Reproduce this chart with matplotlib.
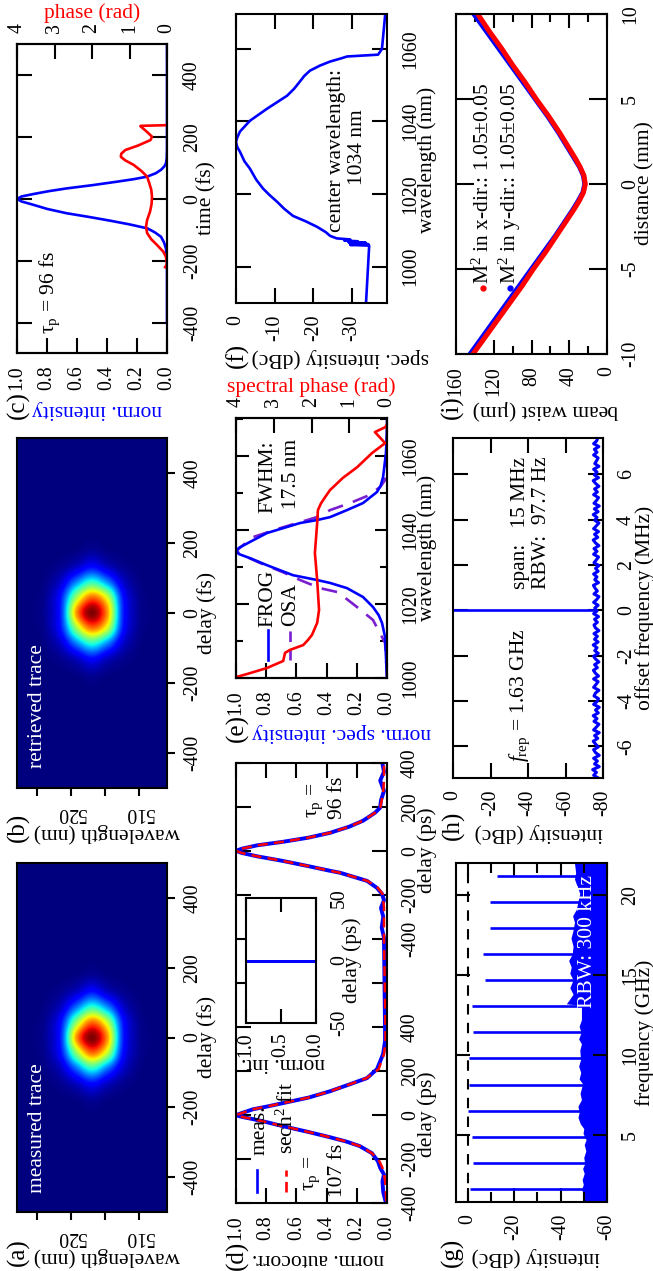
import numpy as np
import matplotlib
matplotlib.use("Agg")
import matplotlib.pyplot as plt

plt.rcParams['font.family'] = ['Liberation Serif', 'DejaVu Serif']
plt.rcParams['mathtext.fontset'] = 'custom'
plt.rcParams['mathtext.rm'] = 'Liberation Serif'
plt.rcParams['mathtext.it'] = 'Liberation Serif:italic'
plt.rcParams['mathtext.bf'] = 'Liberation Serif:bold'
plt.rcParams['axes.unicode_minus'] = False
plt.rcParams['axes.linewidth'] = 1.5

# (a) (b) FROG traces, rows = delay, columns = wavelength
frog_wl = [525.8, 523.6, 521.4, 519.2, 517.0, 514.8, 512.6, 510.3, 508.1]
frog_delay = [-214, -171, -129, -86, -43, 0, 43, 86, 129, 171, 214]
frog_a = [
    [0, 0, 0, 0, .003, 0, 0, 0, 0],
    [0, 0, .002, .01, .03, .01, .002, 0, 0],
    [0, .003, .02, .07, .14, .07, .02, .003, 0],
    [0, .012, .07, .25, .42, .26, .08, .012, 0],
    [.002, .025, .15, .54, .80, .60, .15, .025, .002],
    [.003, .03, .18, .76, 1.0, .76, .18, .028, .003],
    [.002, .025, .15, .54, .80, .60, .16, .025, .002],
    [0, .012, .07, .25, .42, .28, .08, .012, 0],
    [0, .003, .02, .07, .15, .07, .02, .003, 0],
    [0, 0, .002, .01, .03, .01, .002, 0, 0],
    [0, 0, 0, 0, .003, 0, 0, 0, 0],
]
frog_b = [
    [0, 0, 0, 0, .003, 0, 0, 0, 0],
    [0, 0, .002, .01, .03, .01, .002, 0, 0],
    [0, .003, .02, .07, .14, .07, .02, .003, 0],
    [0, .012, .08, .27, .42, .28, .08, .012, 0],
    [.002, .025, .16, .56, .80, .62, .16, .025, .002],
    [.003, .03, .18, .76, 1.0, .76, .18, .028, .003],
    [.002, .025, .16, .56, .80, .62, .16, .025, .002],
    [0, .012, .08, .27, .42, .28, .08, .012, 0],
    [0, .003, .02, .07, .14, .07, .02, .003, 0],
    [0, 0, .002, .01, .03, .01, .002, 0, 0],
    [0, 0, 0, 0, .003, 0, 0, 0, 0],
]

# (c) pulse
c_time = [-400, -200, -160, -140, -122, -108, -95, -82, -70, -58, -46, -32, -19, -8, 0, 8, 16, 25, 34, 45, 56, 64, 72,
          83, 94, 105, 115, 130, 160, 500]
c_int = [0, 0, .007, .02, .04, .08, .13, .25, .38, .52, .67, .8, .89, .97, 1, .97, .89, .79, .67, .49, .33, .22, .133,
         .075, .04, .018, .007, .002, 0, 0]
c_ph_time = [-220, -210, -186, -170, -148, -130, -110, -90, -68, -40, -15, 8, 30, 50, 72, 90, 110, 125, 136, 146, 158,
             172, 190, 201, 215, 235, 236, 238]
c_phase = [.05, 0, .03, .1, .27, .42, .53, .56, .53, .45, .41, .4, .42, .47, .53, .68, .89, 1.12, 1.23, 1.22, 1.11,
           .78, .44, .40, .52, .71, .7, .03]

# (d) autocorrelation, two traces on one broken axis
d_break = 1204
d_delay1 = [-392, -350, -301, -270, -240, -210, -173, -141, -120, -100, -75, -50, -33, -18, -8, 0, 10, 27, 40, 55, 80,
            109, 141, 169, 210, 278, 337, 396]
d_meas1 = [.01, .025, .03, .02, .045, .06, .10, .18, .27, .38, .53, .69, .79, .887, .96, 1, .96, .887, .79, .689, .52,
           .377, .245, .132, .066, .026, .013, .013]
d_fit1 = [.005, .008, .012, .02, .03, .05, .10, .18, .27, .38, .53, .69, .79, .887, .96, 1, .96, .887, .79, .689, .52,
          .377, .245, .135, .055, .02, .01, .01]
d_delay2 = [-396, -350, -300, -260, -225, -196, -169, -137, -100, -91, -70, -46, -25, -10, 0, 10, 25, 41, 60, 82,
            110, 137, 173, 196, 230, 273, 320, 360, 396]
d_meas2 = [.02, .035, .025, .04, .02, .033, .066, .132, .31, .377, .52, .69, .86, .96, 1, .96, .86, .69, .52, .377,
           .25, .159, .08, .046, .04, .02, .045, .02, .03]
d_fit2 = [.02, .02, .02, .02, .025, .03, .06, .13, .31, .377, .52, .69, .86, .96, 1, .96, .86, .69, .52, .377,
          .25, .159, .08, .045, .035, .025, .02, .02, .02]
inset_delay = [-50, 0, 0, 0, 50]
inset_int = [0, 0, 1, 0, 0]

# (e) spectrum
e_wl = [1000, 1011.1, 1014.9, 1017, 1019.2, 1021.9, 1024.3, 1025.7, 1026.5, 1027.8, 1030.5, 1032.4, 1033.5, 1034.3, 1035.2,
        1036.8, 1039.2, 1041.9, 1042.7, 1043.5, 1045.4, 1047.3, 1050.3, 1052, 1054.3, 1060.8, 1067, 1070]
e_frog = [0, .013, .033, .055, .093, .159, .265, .377, .464, .623, .795, .907, .98, 1.0, .98,
          .907, .795, .576, .464, .377, .265, .159, .066, .042, .026, .007, 0, 0]
e_osa_wl = [1000.3, 1009.5, 1015.7, 1019.2, 1023.2, 1024.3, 1026.5, 1028.6, 1031.1, 1033.2, 1034.3, 1035.7,
            1038.1, 1040.5, 1043.5, 1045.4, 1047.3, 1049.2, 1051.6, 1053.5, 1060, 1070]
e_osa = [0, .013, .093, .199, .325, .444, .576, .689, .841, .954, 1, .96,
         .887, .709, .464, .377, .245, .132, .046, .013, 0, 0]
e_ph_wl = [1000.3, 1001.1, 1002.7, 1004.6, 1006.8, 1007.6, 1008.9, 1010.2, 1011.6, 1014.9, 1018.4, 1026.5, 1033.8,
           1041.9, 1045.4, 1047.2, 1048.9, 1050.8, 1054.1, 1057, 1060.8, 1063.5, 1066.5, 1067.8, 1068.5]
e_phase = [3.98, 3.7, 3.18, 2.75, 2.7, 2.57, 2.22, 2.1, 1.99, 1.85, 1.8, 1.85, 1.91,
           1.85, 1.83, 1.75, 1.64, 1.51, 1.17, .79, .40, .05, .32, .05, 0]

# (f) log spectrum
f_wl = [990.4, 1005.8, 1006, 1006.2, 1006.4, 1006.6, 1006.8, 1007, 1007.2, 1007.5, 1007.8, 1008.5, 1009.5, 1011, 1012.5,
        1014, 1016, 1017.9, 1019.7, 1021.5, 1024, 1027, 1029, 1031.7, 1033, 1034.4, 1035.5,
        1037.2, 1040.2, 1043.5, 1047.1, 1049, 1051, 1052.5, 1054, 1055.4, 1056.5, 1057.3, 1057.9, 1058.4, 1060, 1069.1]
f_db = [-33.6, -34.4, -29.5, -34.2, -29.4, -33.5, -29, -31.5, -28, -29.5, -26, -24.3, -23.2, -20.9, -18,
        -14.7, -12.4, -10.6, -8.7, -7, -5.2, -3.6, -2.2, -1, -.3, 0, -.3,
        -1, -3.6, -8, -13.2, -15, -16.5, -17.6, -19.1, -21.7, -24.3, -26.9, -28.7, -36.7, -37.7, -38.5]

# (g) wide RF spectrum
g_comb = [1.63, 3.26, 4.89, 6.52, 8.15, 9.78, 11.41, 13.04, 14.67, 16.3, 17.93, 19.56, 21.19]
g_top = [-1.2, -2.2, -1.7, -.3, -.4, -.6, -2.3, -1.7, -7.4, -6.7, -9.6, -9.6, -12.5]
g_floor_f = [.8, 1.1, 1.3, 1.6, 1.9, 2.2, 2.6, 2.9, 3.2, 3.6, 4.0, 4.4, 4.7, 5.1, 5.4, 5.7, 6.1, 6.4, 6.8, 7.2, 7.6,
             8.2, 8.5, 8.9, 9.3, 9.7, 10.3, 10.7, 11.0, 11.4, 11.8, 12.2, 12.7, 13.1, 13.2, 13.5, 13.8, 14.2, 14.7,
             15.1, 15.5, 15.9, 16.3, 16.8, 17.3, 17.8, 18.3, 18.7, 19.1, 19.6, 20.1, 20.6, 21, 21.4, 22]
g_floor_db = [-50.4, -49.5, -50, -49, -49.8, -49.3, -50.2, -49.5, -50.4, -50, -50.9, -50.2, -51, -49.7, -50, -48.5,
              -47.5, -48, -47.5, -49, -48.4, -49.5, -48, -48.7, -47.8, -48.6, -48.3, -49, -47.8, -48.8, -48, -49, -49,
              -49, -42.5, -44, -45.4, -44, -45.4, -44, -44.6, -43.5, -45, -45.4, -44.5, -45.4, -46, -45.2, -46.8,
              -47.5, -48.3, -47, -46, -46.5, -46]

# (h) narrow RF spectrum
h_freq = [-7.4, -7.28, -7.15, -7.03, -6.9, -6.78, -6.65, -6.53, -6.4, -6.28, -6.15, -6.03, -5.9, -5.78, -5.65, -5.53,
          -5.4, -5.28, -5.15, -5.03, -4.9, -4.78, -4.65, -4.53, -4.4, -4.28, -4.15, -4.03, -3.9, -3.78, -3.65, -3.53,
          -3.4, -3.28, -3.15, -3.03, -2.9, -2.78, -2.65, -2.53, -2.4, -2.28, -2.15, -2.03, -1.9, -1.78, -1.65, -1.53,
          -1.4, -1.28, -1.15, -1.03, -.9, -.78, -.65, -.53, -.4, -.28, -.15, -.03, .1, .22, .35, .47, .6, .72, .85,
          .97, 1.1, 1.22, 1.35, 1.47, 1.6, 1.72, 1.85, 1.97, 2.1, 2.22, 2.35, 2.47, 2.6, 2.72, 2.85, 2.97, 3.1, 3.22,
          3.35, 3.47, 3.6, 3.72, 3.85, 3.97, 4.1, 4.22, 4.35, 4.47, 4.6, 4.72, 4.85, 4.97, 5.1, 5.22, 5.35, 5.47, 5.6,
          5.72, 5.85, 5.97, 6.1, 6.22, 6.35, 6.47, 6.6, 6.72, 6.85, 6.97, 7.1, 7.22, 7.35, 7.47, 7.6]
h_noise = [-77.5, -75, -76.5, -74.5, -78, -75.5, -77, -75, -78, -76, -75, -77.5, -76, -74.8, -77.2, -75.5,
           -78, -75, -76.5, -77.8, -75.2, -76.8, -74.8, -77.5, -76, -78, -75, -76.8, -77.6, -75.2, -76, -77.8,
           -75, -76.2, -77.4, -75, -77.6, -76, -74.9, -77, -75.5, -77.8, -76, -75, -77.5, -75.6, -76.8, -74.8,
           -77.4, -75.5, -77, -75.2, -77.8, -76, -75.2, -77, -75.5, -77.6, -75, -76.8, -75.6, -77.4, -75, -76.6, -77.8,
           -75.2, -77, -75.8, -74.9, -77.6, -75.6, -76.8, -75, -77.4, -76, -77.8, -75.2, -76.4, -77.6, -75, -76.8,
           -75.2, -77.8, -76, -74.8, -77.2, -75.5, -77.6, -75, -76.4, -77.8, -75.6, -76.8, -74.8, -77.4, -75.4, -78,
           -75.2, -76.6, -77.6, -75, -77, -75.5, -77.8, -76, -74.8, -77.6, -75.4, -76.8, -75, -77.8, -75.6, -76.6,
           -77.4, -75, -76.8, -75.4, -77.8, -75, -76.6, -77.2]
h_peak_f = [0, 0]
h_peak_db = [-76, 0]

# (i) beam caustic
i_dist = [-10, -9, -8, -7, -6, -5, -4, -3, -2, -1.5, -1, -.5, 0, .5, 1, 1.5, 2, 3, 4, 5, 6, 7, 8, 9, 10]
i_x = [142, 129, 116, 103, 90, 78, 65, 53, 41, 35, 29.5, 25, 23, 24.5, 28.5, 33.5, 39, 50, 62, 75, 87, 100, 112, 125, 137]
i_y = [145, 132, 119, 106, 93, 80, 67, 54, 42, 36, 30.5, 25.5, 23.5, 25, 29, 34.5, 40, 51, 63, 76, 89, 102, 115, 128, 141]

W, H = 653, 1271
BLUE = '#0000ff'
RED = '#ff0000'
PURPLE = '#7a1fd0'
TS = 14.3
AS = 15.5
LS = 18

fig = plt.figure(figsize=(W / 100, H / 100), dpi=100)


def panel(x0, y0, x1, y1):
    return fig.add_axes([x0 / W, 1 - y1 / H, (x1 - x0) / W, (y1 - y0) / H])


def txt(x, y, s, rot=90, color='k', size=AS):
    fig.text(x / W, 1 - y / H, s, rotation=rot, color=color, fontsize=size, ha='center', va='center')


def style(ax, xt, xl, yt, yl, xlen=10.5, ylen=10.5, pad_x=8.6, pad_y=10):
    # image x = plotted value, image y = the original abscissa
    ax.set_xticks(xt, xl)
    ax.set_yticks(yt, yl)
    ax.tick_params(axis='x', direction='in', length=xlen, width=1.5, top=True, pad=pad_x, labelrotation=90, labelsize=TS)
    ax.tick_params(axis='y', direction='in', length=ylen, width=1.5, left=True, right=True, labelleft=False,
                   labelright=True, pad=pad_y, labelrotation=90, labelsize=TS)
    for t in ax.get_yticklabels():
        t.set_va('center')


def frog(ax, data):
    ax.set_facecolor('#00007f')
    dw = frog_wl[0] - frog_wl[1]
    dd = frog_delay[1] - frog_delay[0]
    ax.imshow(data, cmap='jet', vmin=0, vmax=1, aspect='auto', origin='lower', interpolation='catrom',
              extent=(frog_wl[0] + dw / 2, frog_wl[-1] - dw / 2, frog_delay[0] - dd / 2, frog_delay[-1] + dd / 2))
    ax.set_xlim(528, 505.9)
    ax.set_ylim(-500, 500)
    ax.set_xticks([525, 520, 515, 510], ['', '520', '', '510'])
    ax.set_yticks([-400, -200, 0, 200, 400], ['-400', '-200', '0', '200', '400'])
    ax.tick_params(axis='x', direction='out', length=6, width=1.5, pad=5, labelrotation=180, labelsize=TS)
    ax.tick_params(axis='y', direction='out', length=6, width=1.5, left=False, right=True, labelleft=False,
                   labelright=True, pad=5.8, labelrotation=90, labelsize=TS)
    for t in ax.get_yticklabels():
        t.set_va('center')


# (a)
ax_a = panel(17, 863, 167, 1212)
frog(ax_a, frog_a)
txt(38, 1128, 'measured trace', color='white')
txt(207, 1037, 'delay (fs)')
txt(107, 1257, 'wavelength (nm)', rot=180)
txt(18, 1252, '(a)', size=LS)

# (b)
ax_b = panel(17, 438, 167, 788)
frog(ax_b, frog_b)
txt(38, 706, 'retrieved trace', color='white')
txt(207, 613, 'delay (fs)')
txt(107, 833, 'wavelength (nm)', rot=180)
txt(18, 827, '(b)', size=LS)

# (c)
ax_c = panel(17, 44, 167, 353)
ax_c.plot(c_int, c_time, color=BLUE, lw=1.9)
ax_c.set_xlim(1, 0)
ax_c.set_ylim(-497, 500)
style(ax_c, [0, .2, .4, .6, .8, 1], ['0.0', '0.2', '0.4', '0.6', '0.8', '1.0'],
      [-400, -200, 0, 200, 400], ['-400', '-200', '0', '200', '400'], pad_y=11.5)
ax_c.tick_params(axis='x', top=False)
ax_c2 = ax_c.twiny()
ax_c2.plot(c_phase, c_ph_time, color=RED, lw=1.9)
ax_c2.set_xlim(4, 0)
ax_c2.set_xticks([0, 1, 2, 3, 4], ['0', '1', '2', '3', '4'])
ax_c2.tick_params(axis='x', direction='in', length=10.5, width=1.5, pad=8, labelrotation=90, labelsize=TS)
txt(92, 13, 'phase (rad)', rot=0, color=RED)
txt(207, 198, 'time (fs)')
txt(97, 410, 'norm. intensity', rot=180, color=BLUE)
txt(18, 405, '(c)', size=LS)
txt(50, 292, r'$\mathrm{\tau}_{\mathrm{p}}$ = 96 fs')

# (d)
ax_d = panel(236, 763, 387, 1203)
d_pos = [v for v in d_delay1] + [v + d_break for v in d_delay2]
ax_d.plot(d_meas1 + d_meas2, d_pos, color=BLUE, lw=2.8)
ax_d.plot(d_fit1 + d_fit2, d_pos, color=RED, lw=1.8, ls=(0, (4, 2.5)))
ax_d.set_xlim(1, 0)
ax_d.set_ylim(-400, 1604)
style(ax_d, [0, .2, .4, .6, .8, 1], ['0.0', '0.2', '0.4', '0.6', '0.8', '1.0'],
      [-400, -200, 0, 200, 400, 600, 804, 1004, 1204, 1404, 1604],
      ['-400', '-200', '0', '200', '400', '', '-400', '-200', '0', '200', '400'])
txt(260, 1130, 'meas.')
txt(287, 1118, r'sech$^2$ fit')
ax_d.plot([.14, .14], [.025, .075], color=BLUE, lw=1.9, transform=ax_d.transAxes)
ax_d.plot([.33, .33], [.025, .075], color=RED, lw=1.9, ls=(0, (4, 2)), transform=ax_d.transAxes)
txt(312, 1173, r'$\mathrm{\tau}_{\mathrm{p}}$ =')
txt(338, 1170, '107 fs')
txt(315, 800, r'$\mathrm{\tau}_{\mathrm{p}}$ =')
txt(338, 798, '96 fs')
txt(427, 1114, 'delay (ps)')
txt(427, 850, 'delay (ps)')
txt(318, 1258, 'norm. autocorr.', rot=180)
txt(237, 1255, '(d)', size=LS)

ax_in = panel(246, 898, 316, 1023)
ax_in.plot(inset_int, inset_delay, color=BLUE, lw=1.9)
ax_in.set_xlim(1, 0)
ax_in.set_ylim(-50, 50)
style(ax_in, [0, .5, 1], ['0.0', '0.5', '1.0'], [-50, 0, 50], ['-50', '0', '50'], pad_x=7, pad_y=10)
ax_in.tick_params(axis='x', length=10)
ax_in.tick_params(axis='y', length=0)
txt(352, 960, 'delay (ps)')
txt(283, 1063, 'norm. int.', rot=180)

# (e)
ax_e = panel(236, 418, 387, 678)
ax_e.plot(e_osa, e_osa_wl, color=PURPLE, lw=1.9, ls=(0, (6, 4)))
ax_e.plot(e_frog, e_wl, color=BLUE, lw=1.9)
ax_e.set_xlim(1, 0)
ax_e.set_ylim(1000, 1070.3)
style(ax_e, [0, .2, .4, .6, .8, 1], ['0.0', '0.2', '0.4', '0.6', '0.8', '1.0'],
      [1000, 1020, 1040, 1060], ['1000', '1020', '1040', '1060'], ylen=6)
ax_e.set_yticks([1010, 1030, 1050, 1070], minor=True)
ax_e.tick_params(axis='y', which='minor', direction='in', length=5, width=1.5, left=True, right=True)
ax_e.tick_params(axis='y', which='major', length=9)
ax_e.tick_params(axis='x', top=False)
ax_e2 = ax_e.twiny()
ax_e2.plot(e_phase, e_ph_wl, color=RED, lw=1.9)
ax_e2.set_xlim(4, 0)
ax_e2.set_xticks([0, 1, 2, 3, 4], ['0', '1', '2', '3', '4'])
ax_e2.tick_params(axis='x', direction='in', length=10.5, width=1.5, pad=8, labelrotation=90, labelsize=TS)
txt(311, 387, 'spectral phase (rad)', rot=0, color=RED)
txt(427, 548, 'wavelength (nm)')
txt(341, 733, 'norm. spec. intensity', rot=180, color=BLUE)
txt(237, 728, '(e)', size=LS)
txt(268, 598, 'FROG')
txt(291, 605, 'OSA')
ax_e.plot([.21, .21], [.07, .185], color=BLUE, lw=1.9, transform=ax_e.transAxes)
ax_e.plot([.36, .36], [.07, .185], color=PURPLE, lw=1.9, ls=(0, (4, 3)), transform=ax_e.transAxes)
txt(268, 477, 'FWHM:')
txt(292, 474, '17.5 nm')

# (f)
ax_f = panel(236, 14, 387, 303)
ax_f.plot(f_db, f_wl, color=BLUE, lw=1.9)
ax_f.set_xlim(0, -39)
ax_f.set_ylim(990, 1069.6)
style(ax_f, [0, -10, -20, -30], ['0', '-10', '-20', '-30'],
      [1000, 1020, 1040, 1060], ['1000', '1020', '1040', '1060'])
txt(427, 160, 'wavelength (nm)')
txt(340, 358, 'spec. intensity (dBc)', rot=180)
txt(237, 355, '(f)', size=LS)
txt(337, 150, 'center wavelength:')
txt(358, 147, '1034 nm')

# (g)
ax_g = panel(456, 863, 607, 1202)
ax_g.fill_betweenx(g_floor_f, g_floor_db, -60, color=BLUE, lw=0)
ax_g.hlines(g_comb, g_top, -60, color=BLUE, lw=1.9)
ax_g.axvline(0, color='k', lw=1.5, ls=(0, (5, 4)))
ax_g.set_xlim(5, -60)
ax_g.set_ylim(.81, 22)
style(ax_g, [0, -20, -40, -60], ['0', '-20', '-40', '-60'], [5, 10, 15, 20], ['5', '10', '15', '20'], xlen=10, ylen=10)
ax_g.set_xticks([-10, -30, -50], minor=True)
ax_g.tick_params(axis='x', which='minor', direction='in', length=7, width=1.5, top=True)
txt(587, 942, 'RBW: 300 kHz', color='white')
txt(645, 1033, 'frequency (GHz)')
txt(536, 1257, 'intensity (dBc)', rot=180)
txt(452, 1252, '(g)', size=LS)

# (h)
ax_h = panel(453, 438, 603, 778)
ax_h.plot(h_noise, h_freq, color=BLUE, lw=2.2)
ax_h.plot(h_peak_db, h_peak_f, color=BLUE, lw=1.9)
ax_h.set_xlim(0, -80)
ax_h.set_ylim(-7.4, 7.6)
style(ax_h, [0, -20, -40, -60, -80], ['0', '-20', '-40', '-60', '-80'],
      [-6, -4, -2, 0, 2, 4, 6], ['-6', '-4', '-2', '0', '2', '4', '6'])
txt(645, 608, 'offset frequency (MHz)')
txt(539, 833, 'intensity (dBc)', rot=180)
txt(453, 825, '(h)', size=LS)
txt(520, 695, r'$f_{\mathrm{rep}}$ = 1.63 GHz')
txt(520, 523, 'span:   15 MHz')
txt(542, 523, 'RBW:  97.7 Hz')

# (i)
ax_i = panel(456, 14, 607, 354)
ax_i.plot(i_y, i_dist, color=BLUE, lw=3.6)
ax_i.plot(i_x, i_dist, color=RED, lw=3.6)
ax_i.set_xlim(160, 0)
ax_i.set_ylim(-10, 10)
style(ax_i, [0, 40, 80, 120, 160], ['0', '40', '80', '120', '160'],
      [-10, -5, 0, 5, 10], ['-10', '-5', '0', '5', '10'], xlen=10, ylen=13)
ax_i.set_xticks([20, 60, 100, 140], minor=True)
ax_i.tick_params(axis='x', which='minor', direction='in', length=6, width=1.5, top=True)
txt(645, 183, 'distance (mm)')
txt(546, 410, 'beam waist (µm)', rot=180)
txt(452, 407, '(i)', size=LS)
txt(483, 183, r'M$^2$ in x-dir.: 1.05±0.05')
txt(510, 183, r'M$^2$ in y-dir.: 1.05±0.05')
ax_i.plot([.18], [.194], 'o', color=RED, ms=3.5, transform=ax_i.transAxes)
ax_i.plot([.358], [.194], 'o', color=BLUE, ms=3.5, transform=ax_i.transAxes)

fig.savefig('out.png', dpi=100)
